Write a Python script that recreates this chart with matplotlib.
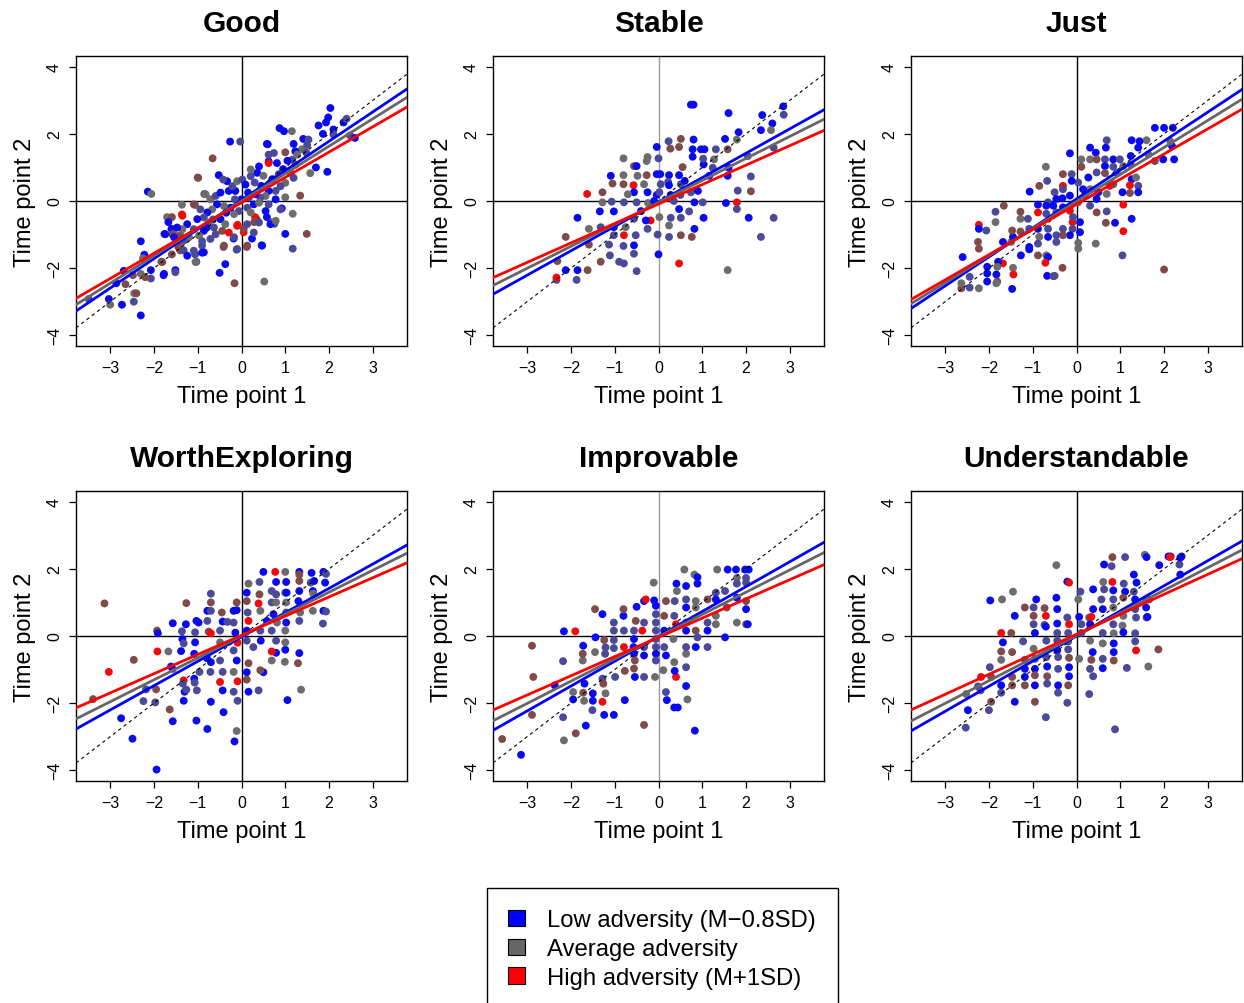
import matplotlib
matplotlib.use("Agg")
import matplotlib.pyplot as plt
import numpy as np
from matplotlib.patches import Patch

plt.rcParams['font.family'] = ['Liberation Sans', 'DejaVu Sans']

titles = ["Good", "Stable", "Just", "WorthExploring", "Improvable", "Understandable"]

# adversity level per point: 0 low (blue) ... 2 average (grey) ... 4 high (red)
level_colors = ['#0a0af0', '#4a4a98', '#6c6c6c', '#7e4a4a', '#f20a0a']

good_pts = [
    (2.03, 2.77, 0), (1.98, 2.49, 0), (1.76, 2.25, 0), (1.93, 2.34, 0), (2.33, 2.34, 0), (2.40, 2.45, 1),
    (2.10, 2.13, 0), (2.10, 1.98, 1), (2.48, 1.95, 1), (2.59, 1.88, 0), (1.86, 2.00, 0), (1.96, 0.87, 0),
    (1.70, 1.00, 0), (1.57, 0.83, 2), (0.87, 2.17, 0), (0.97, 2.08, 0), (1.15, 2.08, 2), (-0.26, 1.77, 0),
    (-0.03, 1.77, 1), (0.58, 1.70, 0), (1.19, 1.70, 0), (1.41, 1.85, 0), (1.53, 1.83, 1), (1.38, 1.54, 2),
    (1.48, 1.44, 1), (-0.66, 1.27, 3), (-1.00, 0.70, 3), (-0.52, 0.77, 0), (-2.14, 0.28, 0), (-2.06, 0.21, 2),
    (-0.85, 0.21, 3), (-1.06, -0.12, 2), (-1.36, -0.11, 2), (-1.70, -0.48, 2), (-1.59, -0.48, 3), (-1.36, -0.40, 4),
    (-1.67, -0.63, 0), (-1.60, -0.83, 0), (-1.76, -0.98, 0), (-1.55, -0.98, 2), (-1.40, -1.02, 3), (-1.29, -1.12, 1),
    (-1.44, -1.37, 4), (-1.40, -1.47, 3), (-1.59, -1.59, 3), (-1.32, -1.47, 1), (-1.06, -1.59, 1), (-0.90, -1.54, 0),
    (-1.03, -1.81, 1), (-0.90, -1.20, 1), (-2.30, -1.20, 0), (-2.22, -1.60, 0), (-2.25, -1.71, 2), (-1.83, -1.81, 3),
    (-2.07, -2.06, 0), (-1.78, -2.21, 0), (-1.51, -2.06, 0), (-2.07, -2.31, 1), (-2.30, -2.17, 2), (-2.20, -2.27, 3),
    (-2.48, -2.21, 3), (-2.69, -2.08, 0), (-2.86, -2.45, 0), (-2.65, -2.48, 3), (-3.03, -2.92, 0), (-3.49, -2.92, 1),
    (-3.00, -3.09, 2), (-2.73, -3.09, 0), (-2.46, -3.00, 1), (-2.45, -2.75, 2), (-2.40, -2.75, 3), (-2.30, -3.41, 0),
    (-0.50, -2.14, 0), (-0.37, -1.88, 0), (-0.16, -2.45, 3), (0.52, -2.40, 2), (-0.41, -1.37, 3), (-0.11, -1.45, 1),
    (-0.18, -1.12, 0), (0.12, -1.37, 3), (0.24, -1.12, 0), (0.46, -1.32, 0), (1.17, -1.42, 1), (1.00, -0.98, 0),
    (1.49, -0.98, 3), (1.17, -0.38, 2), (0.92, -0.22, 0), (1.00, 0.11, 2), (1.34, 0.16, 3), (0.75, -0.68, 1),
    (0.67, -0.63, 2), (0.35, -0.55, 1), (0.58, -0.48, 0), (0.31, -0.48, 4), (-0.09, -0.71, 4), (0.05, -0.93, 4),
    (0.05, -0.83, 3), (0.29, -0.63, 3), (-0.99, 0.69, 3), (-0.33, 0.59, 0), (-0.42, 0.64, 1), (-0.82, 0.20, 2),
    (-0.71, 0.05, 2), (-0.59, 0.15, 1), (-0.48, 0.25, 0), (-0.29, 0.30, 0), (-0.14, 0.30, 0), (-0.21, 0.44, 1),
    (-0.10, 0.59, 2), (0.02, 0.64, 1), (0.09, 0.49, 0), (0.21, 0.74, 1), (0.36, 0.84, 0), (0.21, 0.94, 2),
    (0.40, 1.03, 0), (0.62, 1.18, 0), (0.62, 1.38, 1), (0.74, 1.43, 1), (0.60, 1.69, 0), (0.81, 1.13, 0),
    (0.62, 1.13, 4), (1.00, 1.45, 3), (1.16, 1.23, 1), (1.23, 1.48, 0), (1.27, 1.38, 2), (1.50, 1.67, 1),
    (1.23, 1.08, 1), (1.12, 0.84, 2), (1.19, 0.69, 1), (1.00, 0.54, 2), (0.89, 0.44, 1), (0.78, 0.30, 1),
    (0.62, 0.30, 0), (0.55, 0.15, 2), (0.43, 0.10, 1), (0.32, 0.20, 0), (0.17, 0.10, 1), (0.28, -0.10, 0),
    (0.13, -0.20, 1), (0.40, -0.05, 2), (0.62, -0.10, 1), (0.78, 0.05, 0), (0.89, -0.25, 1), (0.55, -0.30, 0),
    (0.21, -0.34, 2), (-0.06, -0.30, 1), (-0.17, -0.39, 2), (-0.25, -0.20, 0), (-0.40, -0.15, 2), (-0.56, -0.10, 0),
    (-0.67, -0.25, 2), (-0.78, -0.34, 0), (-0.94, -0.25, 1), (-1.09, -0.10, 3), (-0.86, -0.49, 1), (-1.01, -0.54, 0),
    (-1.24, -0.69, 0), (-1.35, -0.84, 2), (-1.47, -0.79, 0), (-1.58, -0.99, 3), (-1.74, -0.99, 0), (-1.35, -0.44, 4),
    (-0.48, -0.54, 0), (-0.37, -0.69, 2), (-0.63, -0.79, 1), (-0.75, -0.64, 2), (-0.86, -0.89, 0), (-1.09, -0.84, 1),
    (-1.20, -1.08, 2), (-0.97, -1.03, 2), (-0.71, -1.13, 1), (-0.59, -0.99, 1), (-0.44, -0.89, 3), (-0.29, -0.94, 4),
    (-0.10, -0.74, 4), (0.13, -0.69, 1), (0.40, -0.64, 1), (0.66, -0.69, 0), (0.78, -0.59, 2), (-0.17, -1.08, 1),
    (-0.40, -1.33, 3), (-0.10, -1.43, 1), (0.13, -1.33, 3), (0.28, -0.94, 1), (0.47, -1.33, 0), (-0.90, -1.33, 1),
    (-1.09, -1.48, 1), (-1.32, -1.18, 1), (-1.43, -1.28, 3), (-1.54, -1.08, 0), (-1.24, -1.63, 0), (-1.05, -1.82, 2),
    (-0.86, -1.53, 0), (-1.51, -2.12, 1), (-1.77, -2.17, 0), (-1.81, -1.82, 3), (0.00, 0.05, 0), (0.15, 0.25, 0),
    (0.45, 0.45, 0), (0.70, 0.65, 0), (0.95, 0.95, 0), (-0.35, -0.35, 0), (-0.65, -0.55, 1), (0.30, 0.55, 1),
    (0.50, 0.75, 2), (-0.15, 0.05, 1), (1.05, 1.20, 0), (0.85, 0.80, 1), (-0.80, -0.80, 0),
]

stable_pts = [
    (0.74, 2.87, 0), (0.80, 2.87, 0), (1.60, 2.62, 0), (2.37, 2.56, 0), (2.85, 2.82, 0), (2.86, 2.57, 1),
    (2.60, 2.31, 0), (2.57, 2.11, 2), (2.34, 2.11, 0), (2.63, 1.59, 1), (2.04, 1.34, 1), (1.83, 2.05, 0),
    (1.79, 1.83, 2), (1.52, 1.85, 0), (1.58, 1.54, 3), (1.31, 1.54, 1), (1.05, 1.54, 0), (0.97, 1.54, 0),
    (0.78, 1.54, 0), (0.80, 1.83, 0), (0.51, 1.85, 3), (0.47, 1.61, 3), (0.27, 1.56, 3), (0.23, 1.78, 1),
    (-0.04, 1.61, 0), (0.00, 1.27, 1), (-0.80, 1.27, 2), (-0.25, 1.31, 2), (-0.27, 1.19, 2), (-0.56, 1.04, 3),
    (-0.50, 1.04, 0), (-1.09, 0.75, 0), (-0.80, 0.77, 2), (-0.48, 0.75, 2), (-0.27, 0.77, 3), (-0.04, 0.80, 0),
    (0.04, 0.80, 0), (0.24, 0.77, 0), (0.22, 0.57, 1), (0.47, 0.77, 0), (0.55, 1.01, 3), (0.78, 1.32, 0),
    (1.03, 1.09, 0), (1.24, 0.99, 1), (1.27, 1.24, 2), (1.02, 1.26, 1), (1.16, 0.75, 0), (1.60, 0.99, 0),
    (1.58, 0.75, 0), (2.11, 0.73, 1), (1.81, 0.31, 1), (2.11, 0.29, 3), (1.79, -0.04, 4), (1.79, -0.24, 1),
    (1.54, -0.06, 0), (2.06, -0.50, 0), (2.63, -0.50, 1), (2.34, -1.07, 1), (1.58, -2.06, 2), (0.47, -1.86, 4),
    (0.00, -1.59, 0), (-0.50, -2.09, 1), (-0.56, -1.57, 1), (-0.79, -1.86, 1), (-0.90, -1.81, 1), (-0.79, -1.02, 4),
    (-1.02, -1.02, 1), (-1.11, -1.62, 1), (-1.32, -1.81, 3), (-1.59, -1.30, 3), (-1.59, -0.83, 2), (-1.62, -2.06, 3),
    (-1.85, -0.50, 0), (-1.85, -2.06, 0), (-1.87, -2.35, 1), (-2.12, -2.06, 0), (-2.12, -1.07, 3), (-2.31, -1.79, 3),
    (-2.33, -2.35, 1), (-2.33, -2.28, 4), (-1.63, 0.21, 4), (-1.28, 0.26, 3), (-1.28, -0.04, 2), (-1.34, -0.31, 0),
    (-1.07, -0.02, 1), (-1.05, 0.52, 3), (-1.02, -0.31, 0), (-0.79, -0.04, 1), (-0.80, 0.50, 3), (-0.57, 0.47, 4),
    (-0.56, 0.26, 0), (-0.50, -0.04, 1), (-0.33, 0.50, 2), (-0.25, 0.26, 0), (-0.24, -0.06, 2), (-0.18, -0.58, 4),
    (-0.04, 0.18, 0), (0.02, 0.26, 1), (0.24, 0.47, 0), (0.28, 0.18, 0), (0.50, 0.18, 1), (0.51, 0.50, 1),
    (0.74, 0.26, 1), (0.82, -0.04, 0), (1.01, -0.04, 1), (1.03, -0.50, 0), (0.70, -0.31, 1), (0.47, -0.24, 0),
    (0.51, -0.50, 1), (0.28, -0.50, 1), (0.24, -0.73, 2), (0.24, -1.07, 1), (0.51, -1.02, 3), (0.76, -1.07, 3),
    (0.82, -0.83, 0), (-0.02, -1.00, 1), (0.02, -0.48, 2), (-0.25, -0.83, 1), (-0.29, -0.58, 0), (-0.56, -0.53, 1),
    (-0.52, -1.02, 1), (-0.56, -1.32, 0), (-0.75, -0.78, 2), (-1.02, -0.78, 0), (-1.32, -0.78, 1), (-1.13, -1.30, 1),
    (-0.80, -1.34, 1), (0.05, 0.50, 1), (-0.10, 0.00, 0), (0.35, 0.00, 1), (0.60, 0.60, 0), (0.90, 0.30, 0),
    (-0.40, -0.30, 0), (-0.70, 0.20, 2),
]

just_pts = [
    (1.79, 2.18, 0), (2.00, 2.18, 0), (2.20, 2.18, 0), (1.60, 1.81, 2), (1.44, 1.78, 0), (1.26, 1.81, 0),
    (2.18, 1.64, 0), (1.98, 1.24, 0), (2.23, 1.24, 0), (1.79, 1.19, 3), (2.14, 1.78, 2), (1.64, 1.39, 2),
    (1.41, 1.59, 0), (1.24, 1.34, 0), (1.24, 1.09, 1), (1.26, 0.65, 0), (1.36, 0.70, 2), (1.41, 0.45, 1),
    (1.41, 0.26, 0), (1.22, 0.47, 4), (1.22, 0.24, 3), (1.05, 0.26, 0), (1.07, -0.11, 4), (1.07, -0.90, 4),
    (1.05, -1.62, 1), (1.26, -0.53, 0), (0.88, -0.65, 0), (0.69, -0.31, 1), (0.67, -0.65, 3), (0.46, -0.34, 3),
    (0.44, -1.27, 2), (0.08, -0.93, 0), (0.04, -1.25, 2), (0.04, -1.42, 2), (0.08, -0.63, 0), (-0.09, -0.63, 4),
    (-0.09, -0.83, 1), (-0.31, -0.83, 1), (-0.15, -1.02, 0), (-0.31, -1.02, 3), (-0.46, -1.02, 1), (-0.46, -1.22, 1),
    (-0.65, -0.83, 1), (-0.65, -1.07, 0), (-0.88, -0.83, 0), (-0.85, -1.07, 2), (-0.88, -1.27, 1), (-0.69, -1.62, 2),
    (-0.88, -1.62, 3), (-0.65, -1.67, 0), (-0.71, -1.84, 4), (-0.67, -2.23, 0), (-0.50, -2.23, 3), (-0.53, -2.24, 1),
    (-0.32, -1.99, 3), (-1.08, -0.83, 1), (-1.08, -1.37, 0), (-1.08, -1.44, 0), (-1.27, -1.62, 0), (-1.49, -1.22, 2),
    (-1.45, -1.07, 0), (-1.47, -0.88, 3), (-1.28, -0.91, 3), (-1.28, -0.53, 2), (-1.28, -0.32, 3), (-1.11, -0.53, 1),
    (-1.66, -0.14, 3), (-1.85, -0.32, 1), (-1.85, -0.63, 2), (-2.06, -0.88, 1), (-2.23, -0.71, 4), (-2.23, -0.83, 0),
    (-2.25, -1.22, 3), (-2.23, -1.42, 3), (-1.68, -1.22, 0), (-1.68, -1.86, 4), (-1.79, -1.81, 0), (-1.81, -1.96, 2),
    (-2.04, -1.96, 0), (-1.83, -2.19, 0), (-1.81, -2.40, 3), (-1.83, -2.45, 2), (-2.04, -2.16, 0), (-2.04, -2.40, 0),
    (-1.45, -1.99, 2), (-1.44, -2.19, 4), (-1.47, -2.62, 0), (-2.23, -2.60, 2), (-2.44, -2.58, 1), (-2.44, -2.26, 1),
    (-2.63, -2.60, 3), (-2.60, -1.67, 0), (-2.63, -2.45, 2), (2.00, -2.04, 3), (-0.15, 1.42, 0), (-0.70, 1.02, 2),
    (-0.85, 0.45, 3), (-1.07, 0.28, 0), (-0.67, 0.60, 1), (-0.31, 0.80, 3), (-0.11, 0.80, 1), (0.11, 1.02, 3),
    (0.11, 1.24, 2), (0.31, 1.24, 2), (0.31, 1.59, 0), (0.44, 1.44, 0), (0.69, 1.81, 1), (0.67, 1.59, 0),
    (0.46, 1.24, 3), (0.65, 1.24, 1), (0.84, 1.24, 0), (0.65, 1.04, 0), (0.84, 1.02, 1), (0.99, 1.24, 1),
    (1.07, 1.04, 2), (0.46, 0.85, 1), (0.65, 0.83, 3), (0.92, 0.83, 1), (0.27, 0.70, 0), (0.04, 0.55, 1),
    (-0.11, 0.60, 0), (-0.31, 0.45, 4), (-0.31, 0.35, 1), (-0.50, 0.26, 1), (-0.46, 0.06, 0), (-0.65, -0.04, 1),
    (-0.88, -0.11, 0), (-0.88, -0.34, 4), (-0.69, -0.38, 1), (-0.46, -0.34, 1), (-0.31, -0.19, 0), (-0.15, -0.29, 4),
    (0.04, -0.04, 2), (0.19, 0.16, 1), (0.31, -0.14, 1), (0.46, 0.06, 0), (0.31, 0.35, 2), (0.76, 0.45, 4),
    (0.84, 0.50, 3), (0.69, 0.21, 2), (0.50, 0.26, 0), (0.15, 0.35, 0), (-0.15, 0.16, 0), (-0.32, 0.08, 0),
    (-0.53, -0.14, 0), (-0.69, -0.14, 0), (-0.08, -0.48, 1),
]

worth_pts = [
    (-3.13, 0.97, 3), (-3.03, -1.07, 4), (-3.39, -1.88, 3), (-2.46, -0.71, 3), (-1.93, 0.16, 3), (-1.91, 0.08, 0),
    (-1.92, -0.46, 4), (-1.67, -0.46, 2), (-2.18, -1.59, 1), (-2.24, -1.94, 1), (-1.97, -1.98, 1), (-1.64, -2.19, 3),
    (-1.95, -1.59, 3), (-2.75, -2.45, 0), (-2.49, -3.06, 0), (-1.94, -3.98, 0), (-1.57, -2.54, 0), (-1.03, -2.52, 0),
    (-0.78, -2.77, 0), (-0.41, -2.27, 0), (-0.11, -2.83, 2), (-0.16, -3.14, 0), (-0.70, -1.96, 0), (-0.18, -1.66, 1),
    (-0.09, -1.93, 1), (0.16, -1.66, 0), (0.39, -1.62, 1), (1.05, -1.91, 0), (1.36, -1.60, 2), (1.29, -0.81, 3),
    (1.32, -0.51, 0), (0.99, -0.77, 2), (1.00, -0.41, 0), (0.69, -0.73, 2), (0.79, -0.50, 0), (0.69, -0.46, 4),
    (0.50, -1.08, 0), (0.43, -1.02, 3), (0.16, -0.81, 3), (0.12, -1.08, 0), (0.12, -1.30, 3), (-0.09, -1.35, 4),
    (-0.49, -1.37, 4), (-0.43, -1.62, 0), (-0.18, -1.07, 2), (-0.43, -1.07, 1), (-0.49, -0.73, 1), (-0.71, -1.07, 1),
    (-0.70, -0.78, 0), (-0.79, -0.66, 0), (-0.96, -1.07, 1), (-1.02, -1.62, 1), (-1.08, -1.27, 0), (-1.07, -1.39, 1),
    (-1.32, -1.32, 4), (-1.30, -1.66, 0), (-1.32, -1.93, 0), (-1.34, -1.42, 1), (-1.26, -1.60, 1), (-1.57, -0.98, 1),
    (-1.61, -0.91, 0), (-1.38, -0.45, 0), (-1.35, -0.09, 0), (-1.32, -0.22, 1), (-1.36, 0.14, 1), (-1.57, 0.38, 0),
    (-1.27, 0.35, 0), (-1.26, 0.98, 3), (-1.03, 0.45, 0), (-0.98, 0.40, 0), (-1.06, 0.11, 1), (-1.06, -0.19, 0),
    (-1.08, -0.53, 0), (-0.78, 0.75, 0), (-0.70, 0.75, 1), (-0.78, 0.45, 1), (-0.75, 0.13, 3), (-0.70, 0.08, 4),
    (-0.70, 1.26, 1), (-0.70, 1.00, 3), (-0.45, 0.70, 3), (-0.43, 0.43, 0), (-0.49, 0.16, 1), (-0.49, -0.19, 2),
    (-0.32, 0.42, 1), (-0.18, 0.75, 0), (-0.11, 0.77, 0), (-0.11, 1.00, 3), (-0.18, 0.40, 1), (-0.14, 0.10, 0),
    (-0.09, -0.20, 4), (-0.18, -0.43, 1), (-0.11, -0.73, 0), (0.12, 1.29, 0), (0.16, 1.56, 2), (0.12, 1.04, 3),
    (0.16, 0.45, 4), (0.14, 0.70, 1), (0.12, 0.16, 0), (0.12, -0.14, 1), (0.27, -0.33, 1), (0.39, 0.97, 4),
    (0.41, 1.24, 3), (0.41, 1.61, 1), (0.50, 1.91, 0), (0.77, 1.91, 4), (1.00, 1.91, 2), (1.32, 1.91, 0),
    (1.32, 1.83, 3), (1.60, 1.88, 0), (1.87, 1.91, 0), (1.93, 1.85, 1), (0.79, 1.61, 0), (1.02, 1.61, 0),
    (1.32, 1.64, 3), (1.58, 1.59, 1), (1.66, 1.64, 0), (1.91, 1.59, 0), (0.69, 1.34, 1), (0.79, 1.24, 1),
    (1.00, 1.29, 1), (1.03, 1.29, 0), (1.32, 1.34, 0), (1.63, 1.34, 0), (1.64, 1.26, 2), (0.69, 1.00, 1),
    (0.79, 1.00, 2), (1.02, 1.00, 2), (1.30, 1.04, 0), (1.34, 0.70, 2), (1.32, 0.45, 1), (1.63, 0.75, 2),
    (1.87, 0.75, 0), (1.93, 0.73, 1), (1.86, 0.37, 1), (1.02, 0.70, 1), (1.02, 0.40, 0), (1.00, 0.16, 2),
    (1.00, -0.19, 2), (0.73, 0.65, 0), (0.81, 0.40, 2), (0.69, 0.16, 1), (0.79, -0.14, 1), (0.58, 0.45, 0),
    (0.43, 0.75, 2), (0.43, 0.16, 1), (0.44, -0.14, 0),
]

improv_pts = [
    (-3.57, -3.07, 3), (-3.14, -3.54, 0), (-2.89, -0.29, 3), (-2.86, -1.22, 3), (-2.89, -2.35, 3), (-2.37, -1.47, 0),
    (-2.18, -0.75, 1), (-2.16, 0.14, 0), (-1.90, 0.14, 4), (-2.18, -2.42, 1), (-2.16, -3.11, 2), (-1.89, -2.90, 3),
    (-1.95, -1.89, 0), (-1.95, -1.67, 2), (-1.72, -1.69, 3), (-1.70, -1.93, 2), (-1.69, -1.42, 0), (-1.73, -0.73, 2),
    (-1.73, -0.53, 3), (-1.72, -0.29, 0), (-1.66, -2.67, 0), (-1.50, -1.71, 0), (-1.50, -1.93, 0), (-1.51, -2.21, 1),
    (-1.24, -2.35, 0), (-1.02, -2.35, 0), (-1.21, -1.71, 2), (-1.28, -1.96, 4), (-1.28, -1.27, 1), (-1.26, -1.42, 3),
    (-1.44, -0.04, 0), (-1.45, -0.48, 2), (-1.45, 0.80, 3), (-1.28, 0.65, 0), (-1.24, -0.12, 3), (-1.21, -0.34, 1),
    (-1.22, -0.53, 1), (-1.02, 0.40, 1), (-1.02, 0.16, 1), (-1.02, -0.12, 1), (-1.02, -0.36, 1), (-0.99, -1.22, 1),
    (-0.79, 0.16, 1), (-0.79, -0.33, 4), (-0.77, -1.04, 3), (-0.77, -1.91, 0), (-0.80, 0.60, 0), (-0.80, 0.80, 3),
    (-0.56, 0.16, 1), (-0.56, -0.09, 0), (-0.57, -0.33, 0), (-0.56, -0.53, 0), (-0.54, -0.73, 3), (-0.56, -0.97, 3),
    (-0.54, -1.22, 0), (-0.52, 0.45, 3), (-0.50, 0.87, 0), (-0.37, 0.16, 4), (-0.33, 0.40, 1), (-0.33, 1.04, 0),
    (-0.29, 1.09, 4), (-0.33, -1.22, 1), (-0.33, -2.65, 3), (-0.33, -0.58, 0), (-0.33, -0.33, 1), (-0.10, 1.06, 0),
    (-0.11, 1.59, 2), (-0.06, 0.90, 0), (-0.06, 0.65, 1), (-0.06, 0.40, 1), (-0.06, 0.16, 1), (-0.06, -0.09, 1),
    (-0.06, -0.33, 1), (-0.06, -0.53, 0), (-0.06, -0.73, 1), (-0.08, -1.22, 2), (0.11, -1.02, 2), (0.13, 0.60, 3),
    (0.13, 0.16, 0), (0.13, -0.33, 1), (0.17, -0.58, 0), (0.17, -1.67, 1), (0.19, -1.91, 0), (0.17, 1.04, 3),
    (0.37, 1.04, 1), (0.41, 1.56, 0), (0.42, 1.34, 2), (0.40, 0.35, 4), (0.36, 0.60, 1), (0.34, -0.09, 2),
    (0.36, -0.78, 2), (0.40, -1.22, 4), (0.37, -1.04, 0), (0.36, -2.13, 0), (0.44, -2.13, 0), (0.63, -0.53, 2),
    (0.63, -0.93, 1), (0.63, -0.33, 1), (0.63, 0.16, 0), (0.63, 0.40, 1), (0.63, 0.85, 0), (0.63, 1.09, 1),
    (0.63, 1.49, 0), (0.59, 1.98, 2), (0.66, -1.89, 2), (0.63, -1.49, 0), (0.83, -2.82, 0), (0.82, 1.83, 2),
    (0.89, 1.75, 0), (0.89, 1.56, 0), (0.85, 1.04, 2), (0.85, 0.85, 2), (0.85, 0.16, 3), (0.89, -0.04, 1),
    (0.85, -0.33, 0), (1.12, 1.09, 3), (1.12, 0.40, 1), (1.12, 0.16, 0), (1.12, -0.33, 1), (1.31, 1.29, 1),
    (1.31, 1.09, 0), (1.34, 1.98, 2), (1.31, 0.60, 2), (1.31, 0.35, 2), (1.52, 1.34, 1), (1.52, -0.04, 0),
    (1.56, 0.85, 3), (1.58, 1.98, 0), (1.77, 1.98, 0), (1.79, 1.73, 2), (1.79, 1.56, 1), (1.79, 1.14, 0),
    (1.79, 0.40, 2), (1.98, 1.98, 0), (2.06, 1.98, 0), (2.00, 1.73, 1), (2.00, 1.59, 1), (2.00, 1.04, 3),
    (2.00, 0.80, 0), (2.00, 0.35, 3), (2.04, 0.35, 0),
]

under_pts = [
    (-2.53, -2.73, 1), (-2.48, -2.21, 0), (-2.52, -1.73, 2), (-2.25, -1.50, 1), (-2.18, -1.22, 4), (-2.19, -1.62, 1),
    (-2.00, -2.21, 1), (-1.95, -1.96, 3), (-1.98, -0.93, 1), (-1.95, -1.22, 3), (-1.97, 1.06, 0), (-1.70, 1.09, 2),
    (-1.72, 0.09, 4), (-1.72, -0.46, 3), (-1.72, -0.71, 2), (-1.72, -1.47, 0), (-1.72, -1.69, 1), (-1.68, -0.19, 0),
    (-1.45, 1.32, 2), (-1.41, 0.60, 0), (-1.49, 0.09, 3), (-1.47, -0.48, 3), (-1.47, -1.22, 3), (-1.47, -1.47, 3),
    (-1.41, -1.96, 0), (-1.22, -0.16, 1), (-1.18, 0.85, 3), (-1.18, -0.71, 1), (-1.18, -0.98, 0), (-1.18, -1.22, 0),
    (-1.18, -1.47, 3), (-0.98, 0.85, 1), (-0.98, 0.60, 3), (-0.98, 0.35, 1), (-0.95, 0.09, 0), (-0.98, -0.38, 2),
    (-0.95, -0.68, 1), (-0.95, -0.98, 0), (-0.95, -1.17, 3), (-0.95, -1.47, 0), (-0.95, -1.96, 3), (-0.92, 1.09, 0),
    (-0.73, 0.83, 3), (-0.70, 0.60, 4), (-0.73, 0.33, 1), (-0.70, 0.28, 0), (-0.69, -0.14, 1), (-0.69, -0.63, 1),
    (-0.67, -0.91, 0), (-0.67, -1.20, 3), (-0.67, -1.42, 1), (-0.70, -2.42, 1), (-0.46, 2.11, 2), (-0.46, 1.14, 0),
    (-0.44, 0.80, 0), (-0.44, 0.37, 0), (-0.44, 0.09, 1), (-0.44, -0.14, 1), (-0.44, -0.43, 0), (-0.42, -0.63, 1),
    (-0.42, -0.98, 1), (-0.42, -1.47, 0), (-0.42, -1.69, 1), (-0.21, 1.62, 0), (-0.17, 1.59, 4), (-0.21, 0.55, 1),
    (-0.17, 0.35, 4), (-0.19, 0.09, 1), (-0.19, -0.16, 1), (-0.19, -0.40, 1), (-0.17, -0.65, 3), (-0.17, -0.93, 0),
    (-0.17, -1.20, 0), (-0.19, -1.47, 3), (-0.21, -1.99, 1), (0.04, 1.09, 2), (0.09, 1.32, 1), (0.06, 0.57, 0),
    (0.11, 0.35, 1), (0.11, 0.09, 1), (0.06, -0.68, 2), (0.29, 0.55, 3), (0.31, 0.35, 0), (0.31, -0.14, 2),
    (0.31, -0.98, 1), (0.29, -1.73, 1), (0.38, -1.20, 1), (0.34, 0.57, 4), (0.38, 0.80, 0), (0.38, 1.39, 0),
    (0.37, -0.48, 0), (0.34, -0.71, 3), (0.57, 1.09, 1), (0.60, 0.80, 0), (0.60, 0.09, 1), (0.60, -0.22, 2),
    (0.60, -0.68, 1), (0.60, -0.96, 0), (0.63, 2.13, 0), (0.61, 1.61, 2), (0.63, 1.39, 1), (0.82, 1.61, 4),
    (0.82, 2.35, 3), (0.80, 2.08, 1), (0.84, 1.36, 0), (0.84, 1.09, 1), (0.84, 0.85, 2), (0.84, 0.35, 1),
    (0.85, 0.08, 2), (0.85, -0.22, 0), (0.85, -0.48, 0), (0.85, -0.73, 3), (0.88, -2.78, 1), (1.11, 2.35, 1),
    (1.08, 1.56, 1), (1.11, 1.32, 0), (1.07, 1.14, 3), (1.07, 0.60, 2), (1.05, 0.31, 2), (1.07, 0.11, 0),
    (1.15, -0.95, 1), (1.31, 1.83, 0), (1.37, 1.59, 0), (1.31, 1.32, 1), (1.34, 1.09, 0), (1.34, 0.80, 1),
    (1.36, 0.55, 1), (1.34, 0.08, 1), (1.34, -0.16, 1), (1.36, -0.43, 4), (1.56, 2.42, 2), (1.60, 2.35, 0),
    (1.59, 1.09, 0), (1.59, 0.85, 0), (1.60, 0.55, 3), (1.62, 0.57, 0), (1.64, -0.91, 2), (1.66, 1.09, 3),
    (1.87, -0.40, 3), (1.89, 2.11, 0), (2.10, 2.37, 0), (2.15, 2.37, 0), (2.14, 2.35, 4), (2.35, 2.13, 1),
    (2.37, 2.33, 0), (2.40, 2.37, 0), (2.37, 1.83, 0),
]

panel_pts = [good_pts, stable_pts, just_pts, worth_pts, improv_pts, under_pts]

# fitted simple slopes (intercept, slope) for low / average / high adversity
low_icpt = [0.03, -0.03, 0.06, -0.03, -0.01, 0.00]
low_slope = [0.875, 0.727, 0.863, 0.725, 0.741, 0.748]
avg_icpt = [0.00, -0.04, -0.015, 0.00, -0.02, 0.015]
avg_slope = [0.817, 0.655, 0.806, 0.653, 0.663, 0.674]
high_icpt = [-0.05, -0.09, -0.10, 0.02, -0.04, 0.05]
high_slope = [0.754, 0.580, 0.750, 0.572, 0.573, 0.596]

vline_colors = ['black', '#9a9a9a', 'black', 'black', '#9a9a9a', 'black']

legend_labels = ["Low adversity (M\u22120.8SD)", "Average adversity", "High adversity (M+1SD)"]
legend_colors = ['#0000ff', '#666666', '#ff0000']

fig = plt.figure(figsize=(12.44, 10.04), dpi=100)
W, H = 1244, 1004
lefts = [76, 493, 911]
tops = [57, 492]
aw, ah = 331, 290

for i, title in enumerate(titles):
    r, c = divmod(i, 3)
    ax = fig.add_axes([lefts[c] / W, 1 - (tops[r] + ah) / H, aw / W, ah / H])
    pts = np.array(panel_pts[i])
    cols = [level_colors[int(k)] for k in pts[:, 2]]

    ax.axhline(0, color='black', lw=1.0, zorder=1)
    ax.axvline(0, color=vline_colors[i], lw=1.0, zorder=1)
    ax.scatter(pts[:, 0], pts[:, 1], s=32, c=cols, linewidths=0, zorder=2)
    ax.axline((0, 0), slope=1, color='black', lw=0.8, ls=(0, (3, 3)), zorder=3)
    ax.axline((0, low_icpt[i]), slope=low_slope[i], color='#0000ff', lw=2.0, zorder=4)
    ax.axline((0, avg_icpt[i]), slope=avg_slope[i], color='#666666', lw=2.0, zorder=4)
    ax.axline((0, high_icpt[i]), slope=high_slope[i], color='#ff0000', lw=2.0, zorder=4)

    ax.set_xlim(-3.78, 3.78)
    ax.set_ylim(-4.32, 4.32)
    ax.set_xticks([-3, -2, -1, 0, 1, 2, 3])
    ax.set_yticks([-4, -2, 0, 2, 4])
    ax.set_xticklabels(['\u22123', '\u22122', '\u22121', '0', '1', '2', '3'])
    ax.set_yticklabels(['\u22124', '\u22122', '0', '2', '4'], rotation=90, va='center')
    ax.tick_params(length=5, width=0.9, labelsize=11.5, pad=5)
    for sp in ax.spines.values():
        sp.set_linewidth(1.0)
    ax.set_title(title, fontsize=21.5, fontweight='bold', pad=18)
    ax.set_xlabel("Time point 1", fontsize=17, labelpad=7)
    ax.set_ylabel("Time point 2", fontsize=17, labelpad=8)

handles = [Patch(facecolor=col, edgecolor='black', linewidth=0.8) for col in legend_colors]
leg = fig.legend(handles, legend_labels, loc='upper left',
                 bbox_to_anchor=(487 / W, 1 - 889 / H), fontsize=17.2,
                 handlelength=0.68, handleheight=0.68, handletextpad=0.95,
                 labelspacing=0.28, borderpad=0.9, borderaxespad=0,
                 fancybox=False, edgecolor='black', framealpha=1)
leg.get_frame().set_linewidth(1.0)

fig.savefig("out.png", dpi=100)
